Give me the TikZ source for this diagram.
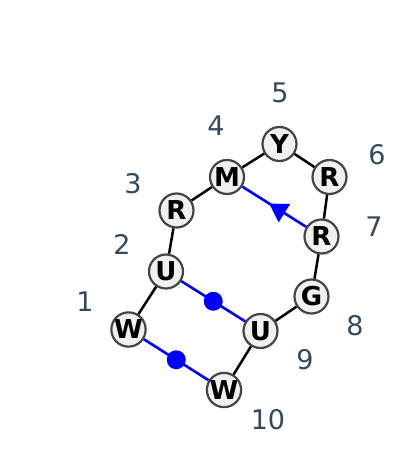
\documentclass[tikz,border=0pt]{standalone}
\usepackage{fontspec}
\setmainfont{DejaVu Sans}
\usetikzlibrary{decorations.markings,arrows.meta}
\definecolor{lblc}{HTML}{34495E}
\definecolor{nfill}{HTML}{F0F0F0}
\definecolor{nedge}{HTML}{444444}
\begin{document}
\begin{tikzpicture}[x=1pt,y=-1pt,
  res/.style={circle,draw=nedge,fill=nfill,line width=2.2pt,minimum size=34pt,inner sep=0pt,font=\fontsize{26}{28}\selectfont\bfseries},
  num/.style={text=lblc,font=\fontsize{27}{30}\selectfont},
  bb/.style={black,line width=2.5pt},
  bl/.style={blue,line width=2.6pt},
  dot/.style={circle,fill=blue,minimum size=19pt,inner sep=0pt},
  tri/.style={bl,postaction={decorate},decoration={markings,mark=at position 0.58 with {\arrow{Triangle[length=18pt,width=21pt]}}}}]
\useasboundingbox (0,0) rectangle (400,476);
% nodes
\node[res] (n1) at (128.5,329.5) {W};
\node[res] (n2) at (166,271.5) {U};
\node[res] (n3) at (176.5,210.5) {R};
\node[res] (n4) at (227,177) {M};
\node[res] (n5) at (279.5,144) {Y};
\node[res] (n6) at (329.5,177) {R};
\node[res] (n7) at (321.5,236.5) {R};
\node[res] (n8) at (311.5,296.5) {G};
\node[res] (n9) at (260.5,331) {U};
\node[res] (n10) at (224,390) {W};
% labels
\node[num] (l1) at (85,302) {1};
\node[num] (l2) at (122,244) {2};
\node[num] (l3) at (133,184) {3};
\node[num] (l4) at (216,126) {4};
\node[num] (l5) at (280,93) {5};
\node[num] (l6) at (377,155) {6};
\node[num] (l7) at (374,227) {7};
\node[num] (l8) at (355,326) {8};
\node[num] (l9) at (305,360) {9};
\node[num] (l10) at (268,420) {10};
% backbone
\draw[bb] (n1) -- (n2);
\draw[bb] (n2) -- (n3);
\draw[bb] (n3) -- (n4);
\draw[bb] (n4) -- (n5);
\draw[bb] (n5) -- (n6);
\draw[bb] (n6) -- (n7);
\draw[bb] (n7) -- (n8);
\draw[bb] (n8) -- (n9);
\draw[bb] (n9) -- (n10);
% blue pairs
\draw[bl] (n1) -- node[dot] (d1) {} (n10);
\draw[bl] (n2) -- node[dot] (d2) {} (n9);
\draw[tri] (n7) -- (n4);
\end{tikzpicture}
\end{document}
